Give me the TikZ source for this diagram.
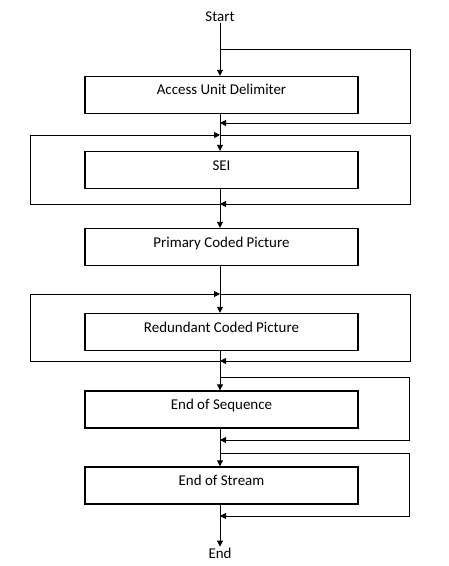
\documentclass[tikz,border=0pt]{standalone}
\usepackage{fontspec}
\setmainfont{Carlito}
\usepackage{tikz}
\usetikzlibrary{positioning}
\usetikzlibrary{arrows.meta}
\tikzset{
    unitbox/.style = {rectangle, draw=black, line width=1.4bp, minimum width=273bp, minimum height=37bp, inner sep=0pt, text height=10bp, text depth=10bp},
    termnode/.style = {draw=none, inner sep=1bp},
    edgen/.style = {-{Triangle[length=6bp,width=6bp]}, line width=0.9bp},
    loopn/.style = {-{Triangle[length=6bp,width=6bp]}, line width=0.9bp},
    every picture/.style={font issue=\fontsize{15}{18}\selectfont},
    font issue/.style={execute at begin picture={#1}}
}
\begin{document}
\begin{tikzpicture}[x=1bp,y=-1bp]
\path[use as bounding box] (0,0) rectangle (449,566);
%
\node[termnode] at (220,17) (start) {Start};
\node[unitbox] at (221.5,95) (aud) {Access Unit Delimiter};
\node[unitbox] at (221.5,170) (sei) {SEI};
\node[unitbox] at (221.5,247) (pcp) {Primary Coded Picture};
\node[unitbox] at (221.5,332) (rcp) {Redundant Coded Picture};
\node[unitbox] at (221.5,409.5) (eos) {End of Sequence};
\node[unitbox] at (221.5,485.5) (eostr) {End of Stream};
\node[termnode] at (220,553) (end) {End};
%
\coordinate (audA) at (220,49);   \coordinate (audB) at (220,123);
\coordinate (seiA) at (220,135);  \coordinate (seiB) at (220,204);
\coordinate (rcpA) at (220,294);  \coordinate (rcpB) at (220,361);
\coordinate (eosA) at (220,377);  \coordinate (eosB) at (220,440);
\coordinate (eostrA) at (220,453); \coordinate (eostrB) at (220,516);
%
\draw[edgen] (start.south) -- (start.south |- aud.north);
\draw[edgen] (audA |- aud.south) -- (audA |- sei.north);
\draw[edgen] (audA |- sei.south) -- (audA |- pcp.north);
\draw[edgen] (audA |- pcp.south) -- (audA |- rcp.north);
\draw[edgen] (audA |- rcp.south) -- (audA |- eos.north);
\draw[edgen] (audA |- eos.south) -- (audA |- eostr.north);
\draw[edgen] (audA |- eostr.south) -- (end.north);
%
\draw[loopn] (audA) -- ++(190,0) |- (audB);
\draw[loopn] (seiA) -- ++(190,0) |- (seiB);
\draw[loopn] (seiB) -- ++(-190,0) |- (seiA);
\draw[loopn] (rcpA) -- ++(190,0) |- (rcpB);
\draw[loopn] (rcpB) -- ++(-190,0) |- (rcpA);
\draw[loopn] (eosA) -- ++(189,0) |- (eosB);
\draw[loopn] (eostrA) -- ++(189,0) |- (eostrB);

\end{tikzpicture}
\end{document}
